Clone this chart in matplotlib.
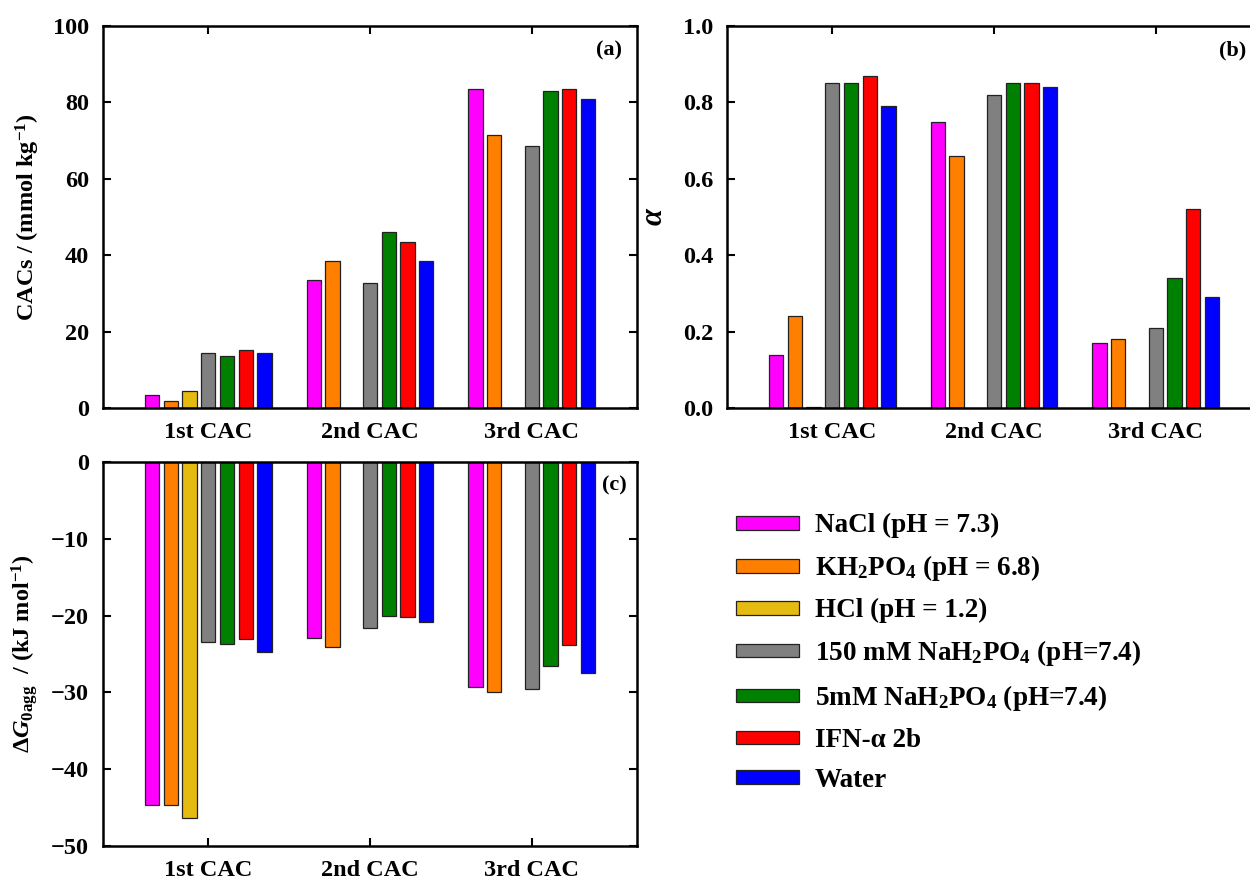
import numpy as np
import matplotlib
matplotlib.use('Agg')
import matplotlib.pyplot as plt

# fonts: bold serif everywhere, mathtext follows the same family
plt.rcParams['font.family'] = ['Liberation Serif', 'DejaVu Serif']
plt.rcParams['font.weight'] = 'bold'
plt.rcParams['axes.labelweight'] = 'bold'
plt.rcParams['mathtext.fontset'] = 'custom'
plt.rcParams['mathtext.rm'] = 'Liberation Serif:bold'
plt.rcParams['mathtext.bf'] = 'Liberation Serif:bold'
plt.rcParams['mathtext.it'] = 'Liberation Serif:italic:bold'
plt.rcParams['mathtext.default'] = 'rm'

groups = ['1st CAC', '2nd CAC', '3rd CAC']
series = ['NaCl (pH = 7.3)',
          r'KH$_2$PO$_4$ (pH = 6.8)',
          'HCl (pH = 1.2)',
          r'150 mM NaH$_2$PO$_4$ (pH=7.4)',
          r'5mM NaH$_2$PO$_4$ (pH=7.4)',
          'IFN-α 2b',
          'Water']
colors = ['#FF00FF', '#FF8000', '#E5BB12', '#808080', '#008000', '#FF0000', '#0000FF']

# (a) CACs / (mmol kg-1), one list per series, items = 1st/2nd/3rd CAC
cac_nacl = [3.5, 33.6, 83.4]
cac_kh2po4 = [1.9, 38.6, 71.4]
cac_hcl = [4.5, np.nan, np.nan]
cac_150mm = [14.5, 32.8, 68.7]
cac_5mm = [13.7, 46.0, 83.1]
cac_ifn = [15.1, 43.4, 83.4]
cac_water = [14.5, 38.4, 80.9]

# (b) alpha
alpha_nacl = [0.14, 0.75, 0.17]
alpha_kh2po4 = [0.24, 0.66, 0.18]
alpha_hcl = [0.003, np.nan, np.nan]
alpha_150mm = [0.85, 0.82, 0.21]
alpha_5mm = [0.85, 0.85, 0.34]
alpha_ifn = [0.87, 0.85, 0.52]
alpha_water = [0.79, 0.84, 0.29]

# (c) dG0agg / (kJ mol-1)
dg_nacl = [-44.6, -22.9, -29.3]
dg_kh2po4 = [-44.6, -24.1, -29.9]
dg_hcl = [-46.3, np.nan, np.nan]
dg_150mm = [-23.4, -21.6, -29.5]
dg_5mm = [-23.7, -20.1, -26.6]
dg_ifn = [-23.0, -20.2, -23.8]
dg_water = [-24.7, -20.8, -27.5]

cac = [cac_nacl, cac_kh2po4, cac_hcl, cac_150mm, cac_5mm, cac_ifn, cac_water]
alpha = [alpha_nacl, alpha_kh2po4, alpha_hcl, alpha_150mm, alpha_5mm, alpha_ifn, alpha_water]
dg = [dg_nacl, dg_kh2po4, dg_hcl, dg_150mm, dg_5mm, dg_ifn, dg_water]

fig = plt.figure(figsize=(12.5, 8.82), dpi=100)
ax_a = fig.add_axes([0.0824, 0.5374, 0.4272, 0.4331])
ax_b = fig.add_axes([0.5816, 0.5374, 0.4272, 0.4331])
ax_c = fig.add_axes([0.0824, 0.0408, 0.4272, 0.4354])

x = np.arange(1, 4)
pitch = 0.116
width = 0.088


def draw_bars(ax, data):
    bars = []
    for i, vals in enumerate(data):
        b = ax.bar(x + (i - 3) * pitch, vals, width, color=colors[i],
                   edgecolor='#222222', linewidth=0.9, label=series[i])
        bars.append(b)
    ax.set_axisbelow(True)  # bars hide the ticks they overlap
    ax.set_xlim(0.35, 3.65)
    ax.set_xticks(x)
    ax.set_xticklabels(groups, fontsize=17.5)
    ax.tick_params(axis='both', direction='in', length=6, width=1.5,
                   top=True, right=True, pad=10, labelsize=17.5)
    for s in ax.spines.values():
        s.set_linewidth(1.8)
    return bars


handles = draw_bars(ax_a, cac)
ax_a.set_ylim(0, 100)
ax_a.set_yticks([0, 20, 40, 60, 80, 100])
ax_a.set_ylabel(r'CACs / (mmol kg$^{-1}$)', fontsize=17.5, labelpad=8)
ax_a.text(0.972, 0.935, '(a)', transform=ax_a.transAxes, ha='right', va='center', fontsize=16)

draw_bars(ax_b, alpha)
ax_b.set_ylim(0, 1.0)
ax_b.set_yticks([0.0, 0.2, 0.4, 0.6, 0.8, 1.0])
ax_b.set_yticklabels(['0.0', '0.2', '0.4', '0.6', '0.8', '1.0'])
ax_b.set_ylabel('α', fontsize=22, fontstyle='italic', labelpad=10)
ax_b.text(0.972, 0.935, '(b)', transform=ax_b.transAxes, ha='right', va='center', fontsize=16)

draw_bars(ax_c, dg)
ax_c.set_ylim(-50, 0)
ax_c.set_yticks([-50, -40, -30, -20, -10, 0])
ax_c.set_yticklabels(['\u221250', '\u221240', '\u221230', '\u221220', '\u221210', '0'])
ax_c.set_ylabel(r'$\Delta\mathit{G}_{\mathrm{0agg}}$  / (kJ mol$^{-1}$)', fontsize=17.5, labelpad=8)
ax_c.text(0.98, 0.94, '(c)', transform=ax_c.transAxes, ha='right', va='center', fontsize=16)

fig.legend(handles=handles, labels=series, loc='upper left',
           bbox_to_anchor=(0.589, 0.418), frameon=False, fontsize=19.5,
           handlelength=2.3, handleheight=0.4, handletextpad=0.6,
           labelspacing=0.55, borderpad=0, borderaxespad=0)

fig.savefig('out.png', dpi=100)
